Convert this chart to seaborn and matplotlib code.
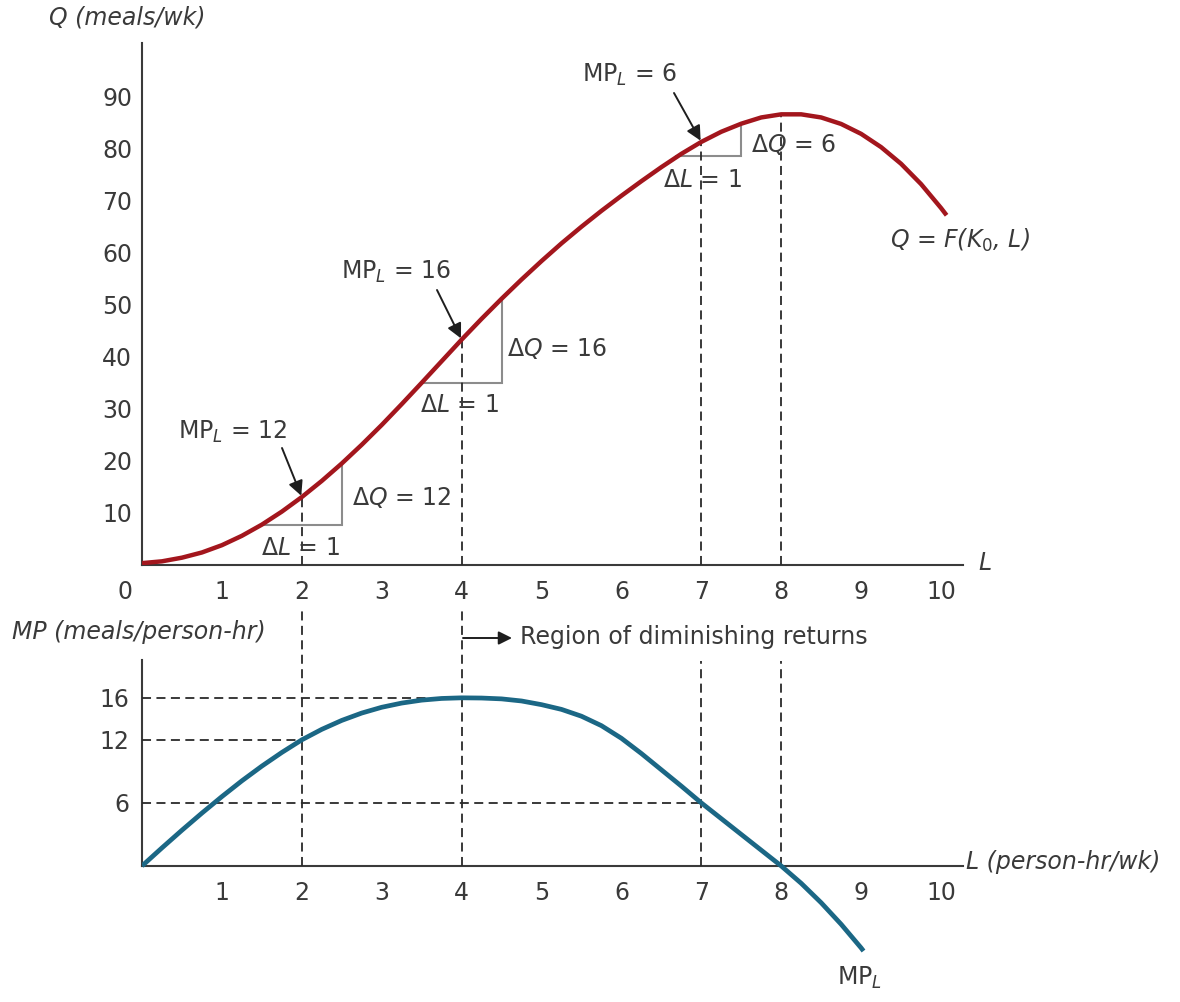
import matplotlib
matplotlib.use("Agg")
import matplotlib.pyplot as plt
import pandas as pd
import seaborn as sns

# ---- data ---------------------------------------------------------------
# total product curve Q = F(K0, L)
labor_q = [0, 0.25, 0.5, 0.75, 1, 1.25, 1.5, 1.75, 2, 2.25, 2.5, 2.75, 3,
           3.25, 3.5, 3.75, 4, 4.25, 4.5, 4.75, 5, 5.25, 5.5, 5.75, 6,
           6.25, 6.5, 6.75, 7, 7.25, 7.5, 7.75, 8, 8.25, 8.5, 8.75, 9,
           9.25, 9.5, 9.75, 10, 10.07]
output_q = [0.3, 0.65, 1.35, 2.35, 3.75, 5.55, 7.7, 10.2, 13.0, 16.1, 19.45,
            23.05, 26.85, 30.85, 34.95, 39.1, 43.25, 47.25, 51.1, 54.8,
            58.35, 61.75, 64.95, 68.0, 70.9, 73.7, 76.4, 78.95, 81.25, 83.2,
            84.75, 85.95, 86.55, 86.55, 85.95, 84.7, 82.8, 80.25, 77.05,
            73.15, 68.55, 67.15]

# marginal product curve MP_L
labor_mp = [0, 0.25, 0.5, 0.75, 1, 1.25, 1.5, 1.75, 2, 2.25, 2.5, 2.75, 3,
            3.25, 3.5, 3.75, 4, 4.25, 4.5, 4.75, 5, 5.25, 5.5, 5.75, 6,
            6.25, 6.5, 6.75, 7, 7.25, 7.5, 7.75, 8, 8.25, 8.5, 8.75, 9, 9.03]
marginal_p = [0, 1.72, 3.4, 5.03, 6.6, 8.1, 9.5, 10.8, 12.0, 13.0, 13.85,
              14.55, 15.1, 15.5, 15.78, 15.94, 16.0, 15.98, 15.9, 15.7,
              15.35, 14.9, 14.25, 13.35, 12.15, 10.7, 9.15, 7.6, 6.0, 4.5,
              3.0, 1.5, 0.0, -1.65, -3.5, -5.55, -7.8, -8.1]

x_ticks = [1, 2, 3, 4, 5, 6, 7, 8, 9, 10]
q_ticks = [10, 20, 30, 40, 50, 60, 70, 80, 90]
mp_ticks = [6, 12, 16]

mark_L = [2, 4, 7]
mark_mp = [12, 16, 6]
peak_L = 8

# slope triangles: horizontal leg (start -> end) and rise dQ
tri_start = [1.5, 3.5, 6.68]
tri_end = [2.5, 4.5, 7.5]
tri_base = [7.7, 34.9, 78.6]
tri_dq = [12, 16, 6]

# ---- style --------------------------------------------------------------
sns.set_style("white")
plt.rcParams["font.family"] = ["DejaVu Sans"]
plt.rcParams["mathtext.fontset"] = "dejavusans"

INK = "#3a3a3a"
RED = "#a3161d"
BLUE = "#1b6785"
GRAY = "#8c8c8c"
FS = 17
DASH = (0, (5, 3))

W, H = 1180, 1002
fig = plt.figure(figsize=(W / 100, H / 100), dpi=100)


def fpx(x, y):
    """figure fraction from pixel position measured from the top-left"""
    return (x / W, 1 - y / H)


x_px0, x_unit = 142, 79.9
x_max = 10.27

# upper panel: Q from 0 to 100.2, 0 at y=564.7, 5.205 px per meal
ax_q = fig.add_axes([x_px0 / W, 1 - 564.7 / H, x_max * x_unit / W, 521.4 / H])
# lower panel: MP from -10 to 19.6, 0 at y=866, 10.5 px per meal
ax_mp = fig.add_axes([x_px0 / W, 1 - 971 / H, x_max * x_unit / W, 311 / H])

df_q = pd.DataFrame({"L": labor_q, "Q": output_q})
df_mp = pd.DataFrame({"L": labor_mp, "MP": marginal_p})

sns.lineplot(data=df_q, x="L", y="Q", ax=ax_q, color=RED, lw=3.2,
             sort=False, zorder=4, solid_joinstyle="round",
             solid_capstyle="butt")
sns.lineplot(data=df_mp, x="L", y="MP", ax=ax_mp, color=BLUE, lw=3.4,
             sort=False, zorder=4, solid_joinstyle="round",
             solid_capstyle="butt")

for ax in (ax_q, ax_mp):
    ax.set_xlim(0, x_max)
    ax.set_xlabel("")
    ax.set_ylabel("")
    ax.patch.set_alpha(0)
    for s in ("top", "right"):
        ax.spines[s].set_visible(False)
    for s in ("left", "bottom"):
        ax.spines[s].set_color(INK)
        ax.spines[s].set_linewidth(1.5)
    ax.set_xticks(x_ticks)
    ax.set_xticklabels([str(t) for t in x_ticks])
    ax.tick_params(axis="x", direction="in", length=14, width=1.4,
                   color=INK, labelsize=FS, labelcolor=INK, pad=11)

ax_q.set_ylim(0, 100.2)
ax_q.set_yticks(q_ticks)
ax_q.set_yticklabels([str(t) for t in q_ticks])
ax_q.tick_params(axis="y", direction="in", length=14, width=1.4,
                 color=INK, labelsize=FS, labelcolor=INK, pad=7)

ax_mp.set_ylim(-10, 19.6)
ax_mp.spines["bottom"].set_position(("data", 0))
ax_mp.spines["left"].set_bounds(0, 19.6)
ax_mp.set_yticks(mp_ticks)
ax_mp.set_yticklabels([str(t) for t in mp_ticks])
ax_mp.tick_params(axis="y", length=0, labelsize=FS, labelcolor=INK, pad=9)

# origin label of the upper panel
ax_q.annotate("0", xy=(0, 0), xycoords=("data", "axes fraction"),
              xytext=(-12, -11), textcoords="offset points",
              ha="center", va="top", fontsize=FS, color=INK)


def q_at(l):
    return output_q[labor_q.index(l)]


# vertical guides in the upper panel (curve down to the axis)
for l in mark_L + [peak_L]:
    ax_q.plot([l, l], [0, q_at(l)], color="#2a2a2a", lw=1.3, ls=DASH,
              zorder=3)

# vertical guides in the lower panel
guide_top = {2: 24.7, 4: 24.7, 7: 19.5, 8: 19.5}
for l in mark_L + [peak_L]:
    ax_mp.plot([l, l], [0, guide_top[l]], color="#2a2a2a", lw=1.3, ls=DASH,
               clip_on=False, zorder=3)

# horizontal guides to the MP axis
for l, m in zip(mark_L, mark_mp):
    ax_mp.plot([0, l], [m, m], color="#2a2a2a", lw=1.3, ls=DASH, zorder=3)

# slope triangles
for a, b, q0, dq in zip(tri_start, tri_end, tri_base, tri_dq):
    ax_q.plot([a, b, b], [q0, q0, q0 + dq], color=GRAY, lw=1.5, zorder=2,
              solid_joinstyle="miter")

arrow_kw = dict(arrowstyle="-|>", color="#1e1e1e", lw=1.4,
                mutation_scale=22, shrinkA=0, shrinkB=1)

# MP_L call-outs with arrows onto the curve
callouts = [
    (2, (233, 432), (282, 448), "12"),
    (4, (396, 272), (437, 290), "16"),
    (7, (630, 75), (674, 93), "6"),
]
for (l, tpos, apos, val) in callouts:
    fig.text(*fpx(*tpos), r"$\mathrm{MP}_{L}$ = " + val, ha="center",
             va="center", fontsize=FS, color=INK)
    ax_q.annotate("", xy=(l, q_at(l)), xytext=(apos[0], H - apos[1]),
                  textcoords="figure pixels", arrowprops=arrow_kw)

# triangle labels
for pos, txt in [((402, 497), r"Δ$Q$ = 12"), ((300, 548), r"Δ$L$ = 1"),
                 ((557, 348), r"Δ$Q$ = 16"), ((459, 405), r"Δ$L$ = 1"),
                 ((794, 145), r"Δ$Q$ = 6"), ((702, 180), r"Δ$L$ = 1")]:
    fig.text(*fpx(*pos), txt, ha="center", va="center", fontsize=FS,
             color=INK)

# axis titles and curve names
fig.text(*fpx(127, 18), "Q (meals/wk)", ha="center", va="center",
         fontsize=FS, style="italic", color=INK)
fig.text(*fpx(985, 563), "L", ha="center", va="center", fontsize=FS,
         style="italic", color=INK)
fig.text(*fpx(1030, 240), r"Q = F($K_0$, L)", ha="right", va="center",
         fontsize=FS, style="italic", color=INK)
fig.text(*fpx(12, 632), "MP (meals/person-hr)", ha="left", va="center",
         fontsize=FS, style="italic", color=INK)
fig.text(*fpx(966, 862), "L (person-hr/wk)", ha="left", va="center",
         fontsize=FS, style="italic", color=INK)
fig.text(*fpx(860, 978), r"$\mathrm{MP}_{L}$", ha="center", va="center",
         fontsize=FS, color=INK)

# region of diminishing returns
ax_mp.annotate("", xy=(512, H - 638), xytext=(463, H - 638),
               xycoords="figure pixels", textcoords="figure pixels",
               arrowprops=dict(arrowstyle="-|>", color="#1e1e1e", lw=1.4,
                               mutation_scale=20, shrinkA=0, shrinkB=0))
fig.text(*fpx(520, 637), "Region of diminishing returns", ha="left",
         va="center", fontsize=FS, color=INK)

fig.savefig("out.png", dpi=100)
